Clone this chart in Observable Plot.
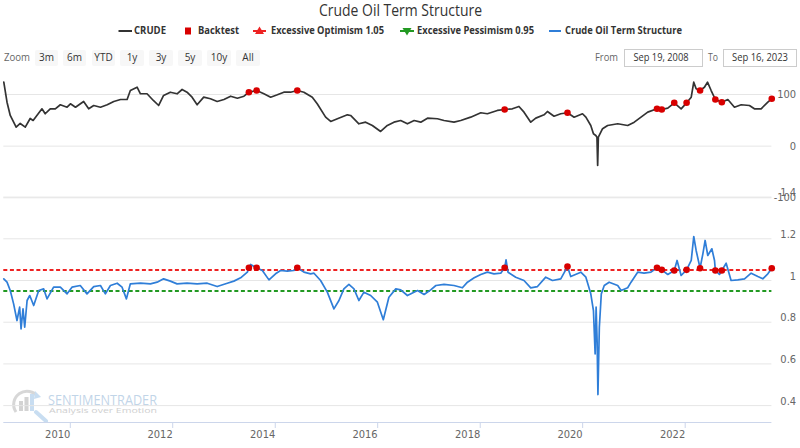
<!DOCTYPE html>
<html><head><meta charset="utf-8">
<script src="https://cdn.jsdelivr.net/npm/d3@7"></script>
<script src="https://cdn.jsdelivr.net/npm/@observablehq/plot@0.6"></script>
<style>
body{margin:0;background:#fff;}
#wrap{position:relative;width:800px;height:448px;overflow:hidden;}
#wrap svg{position:absolute;left:0;top:0;}
</style></head><body><div id="wrap">
<svg id="hdr" width="800" height="448" font-family="Open Sans, sans-serif">
  <text x="319" y="16" font-size="16.5" fill="#333" textLength="163" lengthAdjust="spacingAndGlyphs">Crude Oil Term Structure</text>
  <g font-size="10.5" font-weight="bold" fill="#333">
    <line x1="118.5" x2="132" y1="31" y2="31" stroke="#333" stroke-width="2"/>
    <text x="134" y="34" textLength="32" lengthAdjust="spacingAndGlyphs">CRUDE</text>
    <rect x="185" y="27.5" width="6" height="7" fill="#d80000"/>
    <text x="198" y="34" textLength="41" lengthAdjust="spacingAndGlyphs">Backtest</text>
    <line x1="253" x2="266" y1="31" y2="31" stroke="#ee2222" stroke-width="2"/>
    <path d="M259.5,26.5L264,34L255,34Z" fill="#ee2222"/>
    <text x="271" y="34" textLength="113" lengthAdjust="spacingAndGlyphs">Excessive Optimism 1.05</text>
    <line x1="400" x2="414" y1="31" y2="31" stroke="#229922" stroke-width="2"/>
    <path d="M402.5,28L411.5,28L407,35.5Z" fill="#229922"/>
    <text x="417" y="34" textLength="117" lengthAdjust="spacingAndGlyphs">Excessive Pessimism 0.95</text>
    <line x1="549" x2="561" y1="31" y2="31" stroke="#2f7ed8" stroke-width="2"/>
    <text x="565" y="34" textLength="117" lengthAdjust="spacingAndGlyphs">Crude Oil Term Structure</text>
  </g>
  <g font-size="10" fill="#333">
    <text x="4" y="61" fill="#666" textLength="26" lengthAdjust="spacingAndGlyphs">Zoom</text>
    <rect x="35" y="50" width="23" height="16" rx="2" fill="#f7f7f7"/><text x="46.5" y="61" text-anchor="middle">3m</text>
    <rect x="63" y="50" width="23" height="16" rx="2" fill="#f7f7f7"/><text x="74.5" y="61" text-anchor="middle">6m</text>
    <rect x="92" y="50" width="23" height="16" rx="2" fill="#f7f7f7"/><text x="103.5" y="61" text-anchor="middle">YTD</text>
    <rect x="120" y="50" width="24" height="16" rx="2" fill="#f7f7f7"/><text x="132" y="61" text-anchor="middle">1y</text>
    <rect x="149" y="50" width="24" height="16" rx="2" fill="#f7f7f7"/><text x="161" y="61" text-anchor="middle">3y</text>
    <rect x="178" y="50" width="24" height="16" rx="2" fill="#f7f7f7"/><text x="190" y="61" text-anchor="middle">5y</text>
    <rect x="207" y="50" width="24" height="16" rx="2" fill="#f7f7f7"/><text x="219" y="61" text-anchor="middle">10y</text>
    <rect x="236" y="50" width="24" height="16" rx="2" fill="#f7f7f7"/><text x="248" y="61" text-anchor="middle">All</text>
    <text x="595" y="61" fill="#666" textLength="23" lengthAdjust="spacingAndGlyphs">From</text>
    <rect x="624.5" y="49.5" width="78" height="17" fill="#fff" stroke="#ccc"/>
    <text x="633.5" y="61" textLength="55" lengthAdjust="spacingAndGlyphs">Sep 19, 2008</text>
    <text x="708" y="61" fill="#666" textLength="10" lengthAdjust="spacingAndGlyphs">To</text>
    <rect x="723.5" y="49.5" width="73" height="17" fill="#fff" stroke="#ccc"/>
    <text x="732" y="61" textLength="56" lengthAdjust="spacingAndGlyphs">Sep 16, 2023</text>
  </g>
  <g opacity="0.55">
    <path d="M16,412 A13,13 0 1 1 38,397" fill="none" stroke="#b8b8b8" stroke-width="3"/>
    <path d="M35,391 L41,397 L34,399 Z" fill="#9cc3e6"/>
    <rect x="19" y="401" width="4" height="10" fill="#b0b0b0"/>
    <rect x="24.5" y="397" width="4" height="14" fill="#b0b0b0"/>
    <rect x="30" y="394" width="4" height="17" fill="#9cc3e6"/>
    <line x1="36" y1="412" x2="46" y2="421" stroke="#9cc3e6" stroke-width="4" stroke-linecap="round"/>
    <text x="48" y="405" font-size="14" fill="#8fb3d6" textLength="109" lengthAdjust="spacingAndGlyphs">SENTIMENTRADER</text>
    <text x="49" y="412.5" font-size="7" fill="#a8a8a8" textLength="108" lengthAdjust="spacingAndGlyphs">Analysis over Emotion</text>
  </g>
</svg>
</div>
<script>
// ---- data ----
const xStart = "2008-09-19";
const xEnd = "2023-09-16";
const xTickYears = [2010, 2012, 2014, 2016, 2018, 2020, 2022];
const crudeTicks = [-100, 0, 100];
const termTicks = [0.4, 0.6, 0.8, 1, 1.2, 1.4];
const optimismLevel = 1.05;
const pessimismLevel = 0.95;

const crudeDates = ["2008-09-19","2008-10-12","2008-11-04","2008-12-16","2009-01-14","2009-02-19","2009-03-26","2009-04-16","2009-06-18","2009-07-11","2009-08-16","2009-09-21","2009-10-27","2009-12-14","2010-01-07","2010-02-12","2010-04-11","2010-05-17","2010-06-22","2010-08-09","2010-09-26","2010-11-12","2010-12-30","2011-02-15","2011-03-10","2011-04-27","2011-05-21","2011-07-07","2011-08-21","2011-09-28","2011-11-02","2011-12-20","2012-02-06","2012-03-13","2012-04-17","2012-05-23","2012-06-28","2012-08-14","2012-10-01","2012-11-18","2013-01-05","2013-02-22","2013-04-11","2013-05-28","2013-07-02","2013-08-26","2013-10-17","2013-12-04","2014-01-21","2014-03-08","2014-04-25","2014-06-12","2014-07-29","2014-09-27","2014-11-01","2014-12-31","2015-02-05","2015-03-25","2015-06-04","2015-06-27","2015-08-25","2015-10-12","2015-11-29","2016-01-27","2016-03-15","2016-05-01","2016-06-18","2016-08-05","2016-09-22","2016-11-08","2016-12-26","2017-03-07","2017-04-23","2017-07-03","2017-08-20","2017-10-30","2018-01-10","2018-02-26","2018-05-08","2018-06-29","2018-08-23","2018-10-09","2018-11-14","2019-01-01","2019-02-06","2019-04-06","2019-04-30","2019-06-16","2019-08-03","2019-09-20","2019-11-06","2020-01-05","2020-01-29","2020-03-04","2020-03-23","2020-04-09","2020-04-17","2020-04-22","2020-04-27","2020-05-27","2020-07-02","2020-09-12","2020-11-22","2021-01-08","2021-02-25","2021-04-14","2021-06-19","2021-07-23","2021-09-04","2021-10-20","2021-12-08","2022-01-16","2022-02-18","2022-03-08","2022-03-25","2022-04-22","2022-05-23","2022-06-14","2022-07-10","2022-08-09","2022-09-24","2022-11-06","2022-12-23","2023-02-09","2023-04-09","2023-05-14","2023-07-01","2023-08-18","2023-09-15"];
const crudeValues = [123.8,85.1,59.4,36.8,43.9,36.8,53.6,49.7,72.3,62.7,72.3,72.3,80.1,75.4,82.0,75.4,86.5,72.3,78.7,75.4,80.1,86.5,90.3,90.3,107.7,114.1,101.4,101.4,88.4,78.7,98.1,104.4,101.4,109.7,104.4,94.8,80.1,94.8,91.7,86.5,90.3,96.7,92.8,96.7,104.4,107.7,101.4,94.8,99.4,104.4,104.4,107.7,104.4,94.8,82.0,56.1,47.8,53.0,60.7,59.4,43.3,46.4,40.0,28.4,40.0,46.4,49.7,43.3,49.7,46.4,54.2,53.0,49.7,46.4,49.7,56.1,64.6,62.7,69.1,71.0,72.3,76.8,65.8,46.4,54.2,60.7,67.1,58.0,62.7,64.6,56.1,62.7,56.1,40.0,24.0,20.7,17.4,-37.3,17.4,33.7,40.0,43.3,40.0,46.4,56.1,65.8,72.3,71.0,73.5,83.9,72.3,83.9,94.8,123.8,111.0,107.7,114.1,123.8,107.7,90.3,85.1,90.3,75.4,80.1,78.7,72.3,72.3,85.1,91.7];

const termDates = ["2008-09-19","2008-10-12","2008-11-04","2008-11-28","2008-12-22","2009-01-10","2009-01-20","2009-02-03","2009-02-15","2009-03-04","2009-03-23","2009-04-20","2009-05-26","2009-06-30","2009-07-24","2009-09-09","2009-10-27","2009-12-14","2010-01-18","2010-03-18","2010-05-05","2010-06-22","2010-08-09","2010-09-13","2010-10-19","2010-12-06","2011-01-10","2011-02-10","2011-03-10","2011-05-21","2011-07-31","2011-09-17","2011-11-02","2011-12-20","2012-02-06","2012-04-17","2012-06-28","2012-09-08","2012-11-18","2013-01-29","2013-03-17","2013-05-04","2013-06-21","2013-07-02","2013-07-14","2013-08-26","2013-10-06","2013-11-22","2014-01-08","2014-02-13","2014-04-01","2014-05-18","2014-06-12","2014-07-29","2014-09-15","2014-10-09","2014-11-25","2015-01-12","2015-02-28","2015-04-05","2015-05-10","2015-06-15","2015-07-21","2015-08-25","2015-09-30","2015-11-17","2016-01-04","2016-02-15","2016-03-26","2016-05-14","2016-06-18","2016-08-05","2016-10-16","2016-12-02","2017-01-18","2017-02-24","2017-04-23","2017-07-03","2017-09-01","2017-10-07","2017-11-24","2018-01-10","2018-02-26","2018-04-14","2018-06-01","2018-06-29","2018-07-09","2018-07-23","2018-09-16","2018-11-14","2019-01-01","2019-02-18","2019-04-18","2019-06-05","2019-08-03","2019-09-20","2019-10-13","2019-12-24","2020-01-29","2020-03-04","2020-03-23","2020-04-04","2020-04-11","2020-04-18","2020-04-24","2020-05-04","2020-05-18","2020-06-08","2020-07-13","2020-09-12","2020-10-06","2020-11-22","2020-12-16","2021-02-01","2021-03-19","2021-05-07","2021-06-19","2021-07-23","2021-09-04","2021-10-20","2021-11-09","2021-12-08","2022-01-16","2022-02-18","2022-03-08","2022-03-25","2022-04-22","2022-05-12","2022-05-28","2022-06-16","2022-07-15","2022-08-03","2022-08-09","2022-09-07","2022-09-24","2022-10-25","2022-11-29","2023-01-16","2023-03-05","2023-04-21","2023-06-08","2023-07-13","2023-08-18","2023-09-15"];
const termValues = [1.008,0.992,0.952,0.888,0.808,0.872,0.768,0.864,0.776,0.904,0.928,0.880,0.952,0.960,0.912,0.968,0.968,0.936,0.968,0.976,0.936,0.971,0.976,0.936,0.976,0.987,0.968,0.912,0.984,0.987,0.984,0.992,1.008,0.997,0.984,0.987,0.984,0.987,0.971,0.987,0.997,1.013,1.040,1.061,1.077,1.061,1.048,1.003,1.032,1.048,1.045,1.048,1.061,1.040,1.032,1.035,1.000,0.944,0.864,0.904,0.960,0.981,0.960,0.904,0.944,0.928,0.896,0.812,0.920,0.960,0.955,0.928,0.952,0.933,0.955,0.976,0.981,0.976,0.965,0.992,1.013,1.029,1.040,1.032,1.035,1.061,1.099,1.040,1.016,1.000,0.965,0.971,1.016,1.000,1.008,1.067,1.019,1.040,1.016,0.936,0.856,0.648,0.872,0.712,0.453,0.776,0.936,0.976,0.992,0.976,0.952,0.965,0.992,1.040,1.035,1.040,1.061,1.051,1.029,1.048,1.096,1.024,1.051,1.096,1.211,1.144,1.059,1.128,1.192,1.120,1.152,1.096,1.048,1.029,1.048,1.083,1.000,1.003,1.008,1.035,1.019,1.008,1.032,1.059];

const backtestDates = ["2013-07-02","2013-08-26","2014-06-12","2018-06-29","2019-09-20","2021-06-19","2021-07-23","2021-10-20","2022-01-16","2022-04-22","2022-08-09","2022-09-24","2023-09-15"];
const backtestCrude = [104.4,107.7,107.7,71.0,64.6,72.3,71.0,83.9,83.9,107.7,90.3,85.1,91.7];
const backtestTerm = [1.061,1.061,1.061,1.061,1.067,1.061,1.051,1.048,1.051,1.059,1.048,1.048,1.059];

const crudeDomain = [-100, 130];
const termDomain = [0.319, 1.4];

// ---- build ----
const parse = d3.utcParse("%Y-%m-%d");
const crude = crudeDates.map((d, i) => ({date: parse(d), value: crudeValues[i]}));
const term = termDates.map((d, i) => ({date: parse(d), value: termValues[i]}));
const backtest = backtestDates.map((d, i) => ({date: parse(d), crude: backtestCrude[i], term: backtestTerm[i]}));
const xTicks = xTickYears.map(y => new Date(Date.UTC(y, 0, 1)));

const fontFam = '"Liberation Sans Narrow", "DejaVu Sans Condensed", sans-serif';
const common = {
  width: 800, height: 448,
  marginLeft: 3.3, marginRight: 28.6, marginTop: 0, marginBottom: 26,
  style: {background: "transparent", fontFamily: fontFam, fontSize: "11px", overflow: "visible"}
};
const xScale = {type: "utc", domain: [parse(xStart), parse(xEnd)]};

const topPlot = Plot.plot({
  ...common,
  x: {...xScale, axis: null},
  y: {domain: crudeDomain, range: [197.3, 78.5], axis: null},
  marks: [
    Plot.gridY(crudeTicks, {stroke: "#e6e6e6", strokeOpacity: 1}),
    Plot.axisY(crudeTicks, {anchor: "right", tickSize: 0, tickPadding: 0, textAnchor: "end", dx: 24.2, fill: "#666", label: null, tickFormat: d => String(d)}),
    Plot.lineY(crude, {x: "date", y: "value", stroke: "#333", strokeWidth: 1.7}),
    Plot.dot(backtest, {x: "date", y: "crude", r: 3.3, fill: "#d80000"})
  ]
});

const bottomPlot = Plot.plot({
  ...common,
  x: xScale,
  y: {domain: termDomain, range: [422, 196.6], axis: null},
  marks: [
    Plot.gridY(termTicks, {stroke: "#e6e6e6", strokeOpacity: 1}),
    Plot.axisY(termTicks, {anchor: "right", tickSize: 0, tickPadding: 0, textAnchor: "end", dx: 24.2, dy: -4.3, fill: "#666", label: null, tickFormat: d => String(d)}),
    Plot.ruleY([optimismLevel], {stroke: "#ee2222", strokeWidth: 2, strokeDasharray: "4,2.6"}),
    Plot.ruleY([pessimismLevel], {stroke: "#229922", strokeWidth: 2, strokeDasharray: "4,2.6"}),
    Plot.lineY(term, {x: "date", y: "value", stroke: "#2f7ed8", strokeWidth: 1.7}),
    Plot.dot(backtest, {x: "date", y: "term", r: 3.3, fill: "#d80000"}),
    Plot.ruleY([termDomain[0]], {stroke: "#ccd6eb"}),
    Plot.axisX(xTicks, {anchor: "bottom", tickSize: 6, tickPadding: 2, textAnchor: "end", dx: 0.7, stroke: "#ccd6eb", fill: "#666", label: null, tickFormat: d3.utcFormat("%Y")})
  ]
});

const wrap = document.getElementById("wrap");
wrap.appendChild(topPlot);
wrap.appendChild(bottomPlot);
</script></body></html>
